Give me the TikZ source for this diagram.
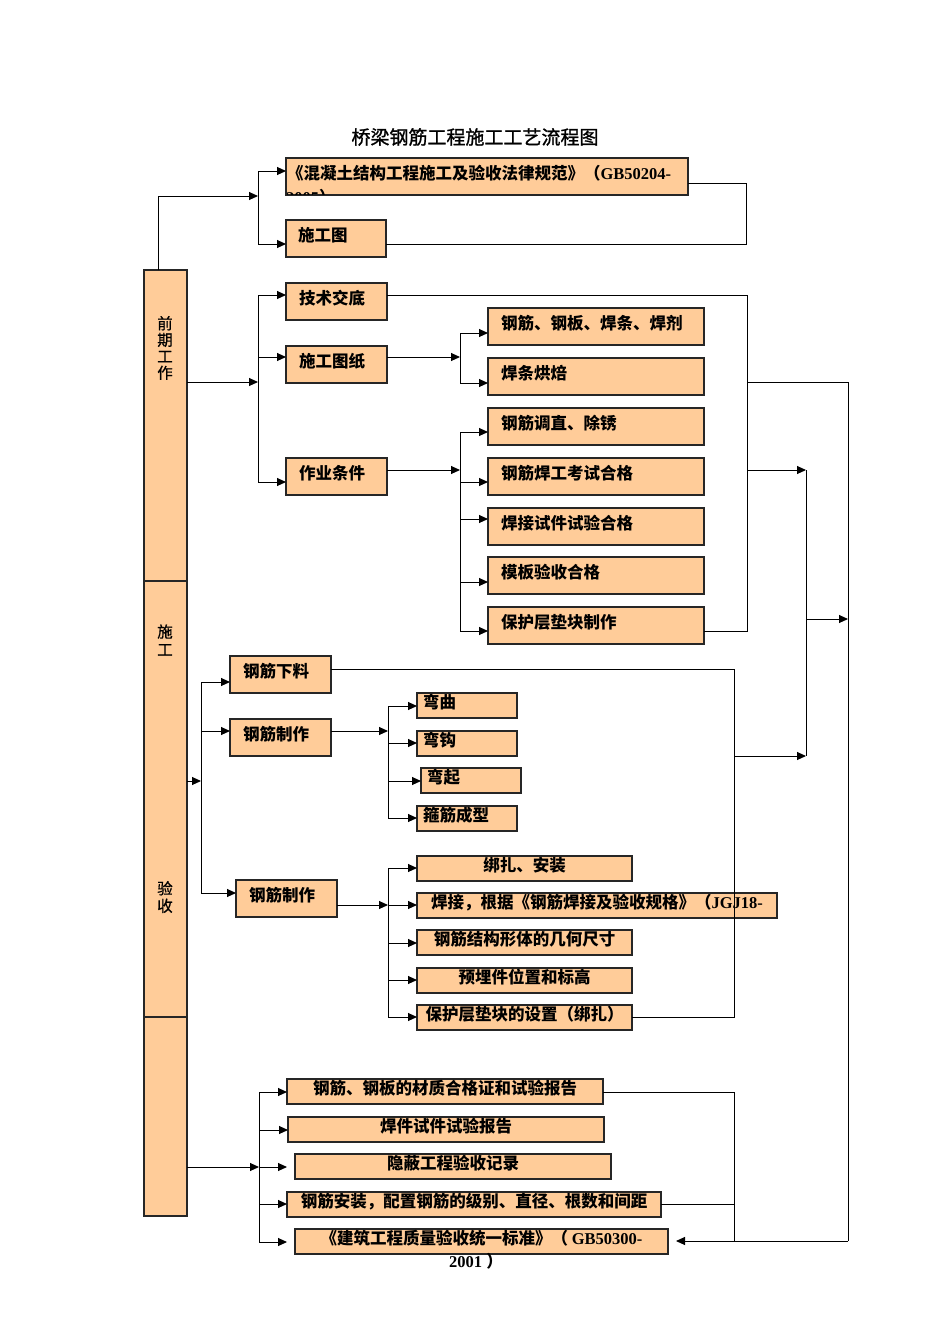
\documentclass[tikz,border=0pt]{standalone}
\usepackage{fontspec}
\setmainfont{Liberation Serif}
\newfontfamily\cjk{Noto Sans CJK SC}
\newfontfamily\cjkt[FakeBold=1.2]{Noto Sans CJK SC}
\newfontfamily\cjkl[FakeBold=0.8]{Noto Sans CJK SC}
\usetikzlibrary{arrows.meta}
\definecolor{peach}{HTML}{FFCC99}
\begin{document}
\begin{tikzpicture}[x=1pt,y=-1pt,
  box/.style={draw=black!85, line width=1.3pt, fill=peach, anchor=north west, outer sep=0pt,
    inner ysep=0pt, text height=12pt, text depth=7pt, font=\cjk\bfseries\fontsize{16.5}{19}\selectfont},
  sbox/.style={box, text depth=5.5pt},
  lt/.style={align=left},
  ln/.style={line width=1pt, draw=black},
  arr/.style={ln, -{Triangle[length=9pt,width=8pt]}},
  vlab/.style={align=center, inner sep=0pt, font=\cjkl\fontsize{15.5}{16.5}\selectfont}
]
\useasboundingbox (0,0) rectangle (950,1344);

% title
\node[font=\cjkt\fontsize{19}{22}\selectfont] (title) at (475,137) {桥梁钢筋工程施工工艺流程图};

% left column
\node[draw=black!85, line width=1.3pt, fill=peach, anchor=north west, outer sep=0pt, inner sep=0pt,
  minimum width=43pt, minimum height=946pt] (L) at (144,270) {};
\coordinate (d1) at (144,581);
\coordinate (d2) at (144,1017);
\draw[draw=black!85, line width=1.3pt] (d1) -- (d1 -| L.east);
\draw[draw=black!85, line width=1.3pt] (d2) -- (d2 -| L.east);
\node[vlab] (lab1) at (165,348) {前\\期\\工\\作};
\node[vlab, font=\cjkl\fontsize{15.5}{18}\selectfont] (lab2) at (165,640) {施\\工};
\node[vlab, font=\cjkl\fontsize{15.5}{17.5}\selectfont] (lab3) at (165,897) {验\\收};

% ---------- top section ----------
\node[box, lt, minimum width=402pt, minimum height=37pt, text width=400pt, inner xsep=1pt] (b1) at (286,158)
  {《混凝土结构工程施工及验收法律规范》（{\rmfamily GB50204-}};
\begin{scope}
  \clip (286,158) rectangle (688,194.3);
  \node[anchor=base west, inner sep=0pt, font=\cjk\bfseries\fontsize{16.5}{19}\selectfont] (b1x) at (286,203)
    {{\rmfamily 2005}）};
\end{scope}
\node[box, lt, minimum width=100pt, minimum height=37pt, text width=76pt, inner xsep=12pt] (sgt) at (286,220) {施工图};

\coordinate (a0) at (158,196);
\coordinate (a1) at (258,196);
\draw[arr] (L.north -| a0) -- (a0) -- (a1);
\coordinate (a2) at (258,171);
\coordinate (a3) at (258,244);
\draw[ln] (a2) -- (a3);
\draw[arr] (a2) -- (a2 -| b1.west);
\draw[arr] (a3) -- (a3 -| sgt.west);
\coordinate (a4) at (746,183);
\coordinate (a5) at (746,244);
\draw[ln] (a4 -| b1.east) -- (a4) -- (a5) -- (a5 -| sgt.east);

% ---------- preparation section ----------
\node[box, lt, minimum width=101pt, minimum height=37pt, text width=75pt, inner xsep=13pt] (jsjd) at (286,283) {技术交底};
\node[box, lt, minimum width=101pt, minimum height=37pt, text width=75pt, inner xsep=13pt] (sgtz) at (286,346) {施工图纸};
\node[box, lt, minimum width=101pt, minimum height=37pt, text width=75pt, inner xsep=13pt] (zytj) at (286,458) {作业条件};

\node[box, lt, minimum width=216pt, minimum height=37pt, text width=190pt, inner xsep=13pt] (r1) at (488,308) {钢筋、钢板、焊条、焊剂};
\node[box, lt, minimum width=216pt, minimum height=37pt, text width=190pt, inner xsep=13pt] (r2) at (488,358) {焊条烘焙};
\node[box, lt, minimum width=216pt, minimum height=37pt, text width=190pt, inner xsep=13pt] (r3) at (488,408) {钢筋调直、除锈};
\node[box, lt, minimum width=216pt, minimum height=37pt, text width=190pt, inner xsep=13pt] (r4) at (488,458) {钢筋焊工考试合格};
\node[box, lt, minimum width=216pt, minimum height=37pt, text width=190pt, inner xsep=13pt] (r5) at (488,508) {焊接试件试验合格};
\node[box, lt, minimum width=216pt, minimum height=37pt, text width=190pt, inner xsep=13pt] (r6) at (488,557) {模板验收合格};
\node[box, lt, minimum width=216pt, minimum height=37pt, text width=190pt, inner xsep=13pt] (r7) at (488,607) {保护层垫块制作};

\coordinate (m0) at (258,382);
\draw[arr] (m0 -| L.east) -- (m0);
\coordinate (m1) at (258,295);
\coordinate (m2) at (258,357);
\coordinate (m3) at (258,482);
\draw[ln] (m1) -- (m3);
\draw[arr] (m1) -- (m1 -| jsjd.west);
\draw[arr] (m2) -- (m2 -| sgtz.west);
\draw[arr] (m3) -- (m3 -| zytj.west);

\coordinate (m4) at (460,357);
\draw[arr] (m4 -| sgtz.east) -- (m4);
\coordinate (m5) at (460,333);
\coordinate (m6) at (460,383);
\draw[ln] (m5) -- (m6);
\draw[arr] (m5) -- (m5 -| r1.west);
\draw[arr] (m6) -- (m6 -| r2.west);

\coordinate (n0) at (460,470);
\draw[arr] (n0 -| zytj.east) -- (n0);
\coordinate (n1) at (460,432);
\coordinate (n2) at (460,482);
\coordinate (n3) at (460,519);
\coordinate (n4) at (460,582);
\coordinate (n5) at (460,631);
\draw[ln] (n1) -- (n5);
\draw[arr] (n1) -- (n1 -| r3.west);
\draw[arr] (n2) -- (n2 -| r4.west);
\draw[arr] (n3) -- (n3 -| r5.west);
\draw[arr] (n4) -- (n4 -| r6.west);
\draw[arr] (n5) -- (n5 -| r7.west);

\coordinate (m8) at (747,295);
\coordinate (m9) at (747,631);
\draw[ln] (m8 -| jsjd.east) -- (m8) -- (m9) -- (m9 -| r7.east);
\coordinate (m10) at (747,382);
\coordinate (m11) at (848,382);
\coordinate (m12) at (848,1241);
\coordinate (m13) at (676,1241);
\draw[ln] (m10) -- (m11) -- (m12);
\draw[arr] (m12) -- (m13);
\coordinate (m14) at (747,470);
\coordinate (m15) at (806,470);
\coordinate (m18) at (806,756);
\draw[arr] (m14) -- (m15);
\draw[ln] (m15) -- (m18);
\coordinate (m16) at (806,619);
\coordinate (m17) at (848,619);
\draw[arr] (m16) -- (m17);

% ---------- construction section ----------
\node[box, lt, minimum width=101pt, minimum height=37pt, text width=75pt, inner xsep=13pt] (xl) at (230,656) {钢筋下料};
\node[box, lt, minimum width=101pt, minimum height=37pt, text width=75pt, inner xsep=13pt] (zz1) at (230,719) {钢筋制作};
\node[box, lt, minimum width=101pt, minimum height=37pt, text width=75pt, inner xsep=13pt] (zz2) at (236,880) {钢筋制作};

\node[sbox, lt, minimum width=100pt, minimum height=25pt, text width=88pt, inner xsep=6pt] (wq) at (417,693) {弯曲};
\node[sbox, lt, minimum width=100pt, minimum height=25pt, text width=88pt, inner xsep=6pt] (wg) at (417,731) {弯钩};
\node[sbox, lt, minimum width=100pt, minimum height=25pt, text width=88pt, inner xsep=6pt] (wqi) at (421,768) {弯起};
\node[sbox, lt, minimum width=100pt, minimum height=25pt, text width=88pt, inner xsep=6pt] (gj) at (417,806) {箍筋成型};

\node[sbox, minimum width=215pt, minimum height=25pt] (bz) at (417,856) {绑扎、安装};
\node[sbox, minimum width=360pt, minimum height=25pt] (hj) at (417,893) {焊接，根据《钢筋焊接及验收规格》（{\rmfamily JGJ18-}};
\node[sbox, minimum width=215pt, minimum height=25pt] (jg) at (417,930) {钢筋结构形体的几何尺寸};
\node[sbox, minimum width=215pt, minimum height=25pt] (ym) at (417,968) {预埋件位置和标高};
\node[sbox, minimum width=215pt, minimum height=25pt] (bh) at (417,1005) {保护层垫块的设置（绑扎）};

\coordinate (c0) at (201,781);
\draw[arr] (c0 -| L.east) -- (c0);
\coordinate (c1) at (201,682);
\coordinate (c2) at (201,731);
\coordinate (c3) at (201,893);
\draw[ln] (c1) -- (c3);
\draw[arr] (c1) -- (c1 -| xl.west);
\draw[arr] (c2) -- (c2 -| zz1.west);
\draw[arr] (c3) -- (c3 -| zz2.west);

\coordinate (e0) at (388,731);
\draw[arr] (e0 -| zz1.east) -- (e0);
\coordinate (e1) at (388,706);
\coordinate (e2) at (388,743);
\coordinate (e3) at (388,781);
\coordinate (e4) at (388,818);
\draw[ln] (e1) -- (e4);
\draw[arr] (e1) -- (e1 -| wq.west);
\draw[arr] (e2) -- (e2 -| wg.west);
\draw[arr] (e3) -- (e3 -| wqi.west);
\draw[arr] (e4) -- (e4 -| gj.west);

\coordinate (f0) at (388,905);
\draw[arr] (f0 -| zz2.east) -- (f0);
\coordinate (f1) at (388,868);
\coordinate (f2) at (388,943);
\coordinate (f3) at (388,980);
\coordinate (f4) at (388,1017);
\draw[ln] (f1) -- (f4);
\draw[arr] (f1) -- (f1 -| bz.west);
\draw[arr] (f0) -- (f0 -| hj.west);
\draw[arr] (f2) -- (f2 -| jg.west);
\draw[arr] (f3) -- (f3 -| ym.west);
\draw[arr] (f4) -- (f4 -| bh.west);

\coordinate (g0) at (734,669);
\coordinate (g1) at (734,1017);
\draw[ln] (g0 -| xl.east) -- (g0) -- (g1) -- (g1 -| bh.east);
\coordinate (g2) at (734,756);
\draw[arr] (g2) -- (m18);

% ---------- acceptance section ----------
\node[sbox, minimum width=316pt, minimum height=25pt] (bb1) at (287,1079) {钢筋、钢板的材质合格证和试验报告};
\node[sbox, minimum width=316pt, minimum height=25pt] (bb2) at (288,1117) {焊件试件试验报告};
\node[sbox, minimum width=316pt, minimum height=25pt] (bb3) at (295,1154) {隐蔽工程验收记录};
\node[sbox, minimum width=374pt, minimum height=25pt] (bb4) at (287,1192) {钢筋安装，配置钢筋的级别、直径、根数和间距};
\node[sbox, minimum width=373pt, minimum height=25pt] (bb5) at (295,1229) {《建筑工程质量验收统一标准》（ {\rmfamily GB50300-}};
\node[font=\cjk\bfseries\fontsize{16.5}{19}\selectfont, inner sep=0pt] (t2001) at (476,1261) {{\rmfamily 2001 }）};

\coordinate (v0) at (259,1167);
\draw[arr] (v0 -| L.east) -- (v0);
\coordinate (v1) at (259,1092);
\coordinate (v2) at (259,1130);
\coordinate (v3) at (259,1204);
\coordinate (v4) at (259,1242);
\draw[ln] (v1) -- (v4);
\draw[arr] (v1) -- (v1 -| bb1.west);
\draw[arr] (v2) -- (v2 -| bb2.west);
\coordinate (v5) at (287,1167);
\draw[arr] (v0) -- (v5);
\draw[arr] (v3) -- (v3 -| bb4.west);
\coordinate (v6) at (287,1242);
\draw[arr] (v4) -- (v6);

\coordinate (w0) at (734,1092);
\coordinate (w1) at (734,1241);
\coordinate (w2) at (734,1204);
\draw[ln] (w0 -| bb1.east) -- (w0) -- (w1);
\draw[ln] (w2 -| bb4.east) -- (w2);
\end{tikzpicture}
\end{document}
